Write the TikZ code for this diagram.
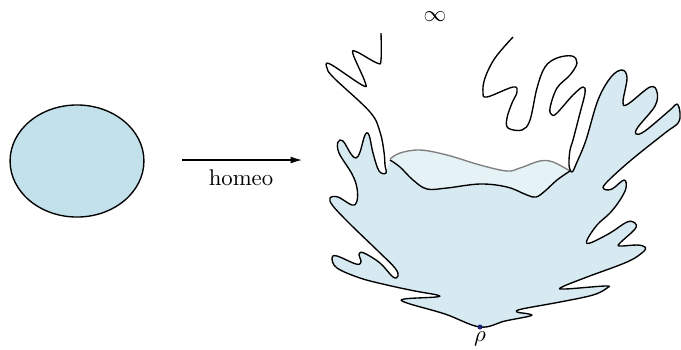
\documentclass[tikz,border=0pt]{standalone}
\usepackage{amsmath,amssymb}
\usepackage{tikz}
\usetikzlibrary{arrows.meta,positioning,shapes.geometric}

\definecolor{diskblue}{RGB}{194,225,235}
\definecolor{bodyblue}{RGB}{215,234,241}
\definecolor{capblue}{RGB}{229,242,246}
\definecolor{rhoblue}{RGB}{25,35,120}

\begin{document}
\begin{tikzpicture}[x=0.44pt,y=-0.44pt,
    outline/.style={black, line width=0.6pt, line join=round},
    rim/.style={gray, line width=0.6pt},
    lbl/.style={inner sep=1pt}]
    \useasboundingbox (0,0) rectangle (681,349);

    % the disk
    \node[ellipse, draw, line width=0.6pt, fill=diskblue, minimum width=58.9pt,
          minimum height=49.3pt, inner sep=0pt] (disk) at (77,161) {};

    % the map
    \coordinate (arrS) at (182,160);
    \coordinate (arrE) at (302,160);
    \draw[-{Latex[length=5pt,width=3pt]}, line width=0.5pt] (arrS) -- (arrE);
    \node[lbl] (homeo) at (241,178) {homeo};

    % body of the image domain
    \fill[bodyblue] plot[smooth, tension=0.6] coordinates {
        (386,173) (379,171) (373,153) (369,135) (365,135) (360,152) (356,158)
        (351,154) (343,141) (338,142) (339,153) (352,174) (357,188) (357,201)
        (352,205) (338,197) (330,198) (333,206) (350,224) (378,251) (395,268)
        (398,276) (393,277) (380,263) (364,253) (359,254) (361,262) (356,264)
        (337,256) (332,258) (337,268) (360,278) (387,285) (415,291) (437,295)
        (436,297) (404,299) (407,303) (445,314) (480,327) (505,321) (530,316)
        (529,314) (517,312) (522,309) (560,302) (593,295) (607,288) (605,286)
        (565,289) (562,287) (587,277) (627,262) (643,252) (645,247) (637,245)
        (620,246) (620,243) (635,229) (635,223) (627,222) (610,233) (590,243)
        (587,240) (597,225) (610,213) (620,200) (626,188) (624,180) (612,189)
        (604,189) (606,183) (630,161) (665,133) (678,123) (680,113) (677,104)
        (670,110) (645,131) (636,134) (638,127) (655,106) (657,92) (650,87)
        (628,104) (623,102) (627,78) (622,70) (611,77) (598,100) (586,140)
        (577,162) (572,172)}
      -- plot[smooth, tension=0.6] coordinates {
        (570,171) (557,180) (545,191) (536,197) (527,195) (507,187) (480,184)
        (447,188) (427,189) (413,180) (400,167) (390,160)} -- cycle;

    % lighter cap between the two rims
    \fill[capblue] plot[smooth, tension=0.6] coordinates {
        (390,159) (400,153) (420,150) (447,155) (480,165) (507,171) (520,168)
        (540,161) (553,162) (570,171)}
      -- plot[smooth, tension=0.6] coordinates {
        (570,171) (557,180) (545,191) (536,197) (527,195) (507,187) (480,184)
        (447,188) (427,189) (413,180) (400,167) (390,160)} -- cycle;
    \draw[rim] plot[smooth, tension=0.6] coordinates {
        (390,159) (400,153) (420,150) (447,155) (480,165) (507,171) (520,168)
        (540,161) (553,162) (570,171)};
    \draw[outline] plot[smooth, tension=0.6] coordinates {
        (570,171) (557,180) (545,191) (536,197) (527,195) (507,187) (480,184)
        (447,188) (427,189) (413,180) (400,167) (390,160)};

    % boundary, running out to infinity on both ends
    \draw[outline] plot[smooth, tension=0.6] coordinates {
        (381,33) (381,60) (377,63) (357,52) (353,54) (365,82) (362,85)
        (330,64) (327,68) (334,78) (370,112) (380,132) (384,152) (385,165)
        (386,173) (379,171) (373,153) (369,135) (365,135) (360,152) (356,158)
        (351,154) (343,141) (338,142) (339,153) (352,174) (357,188) (357,201)
        (352,205) (338,197) (330,198) (333,206) (350,224) (378,251) (395,268)
        (398,276) (393,277) (380,263) (364,253) (359,254) (361,262) (356,264)
        (337,256) (332,258) (337,268) (360,278) (387,285) (415,291) (437,295)
        (436,297) (404,299) (407,303) (445,314) (480,327) (505,321) (530,316)
        (529,314) (517,312) (522,309) (560,302) (593,295) (607,288) (605,286)
        (565,289) (562,287) (587,277) (627,262) (643,252) (645,247) (637,245)
        (620,246) (620,243) (635,229) (635,223) (627,222) (610,233) (590,243)
        (587,240) (597,225) (610,213) (620,200) (626,188) (624,180) (612,189)
        (604,189) (606,183) (630,161) (665,133) (678,123) (680,113) (677,104)
        (670,110) (645,131) (636,134) (638,127) (655,106) (657,92) (650,87)
        (628,104) (623,102) (627,78) (622,70) (611,77) (598,100) (586,140)
        (577,162) (572,172) (569,165) (570,150) (573,140) (580,113) (585,93)
        (583,87) (573,95) (557,113) (552,115) (550,108) (557,88) (570,75)
        (577,63) (572,56) (557,58) (545,67) (537,88) (530,120) (522,130)
        (508,128) (507,118) (512,103) (517,92) (513,87) (487,97) (483,92)
        (485,78) (495,58) (513,37)};

    % base point and infinity
    \fill[rhoblue] (480,327) circle (1.1pt);
    \coordinate (rhoPt) at (480,327);
    \node[lbl, below=1pt of rhoPt] (rho) {$\rho$};
    \node[lbl] (infty) at (435,17) {$\infty$};
\end{tikzpicture}
\end{document}
